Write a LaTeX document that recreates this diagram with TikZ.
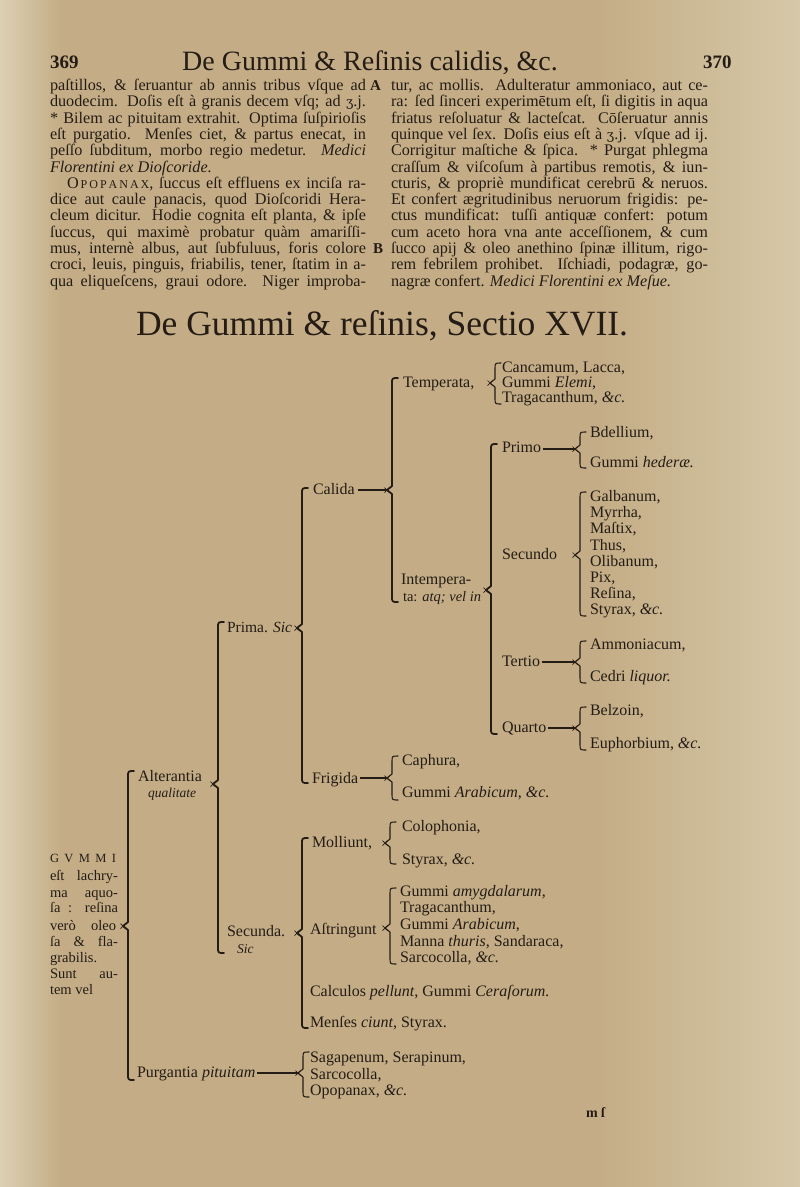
\documentclass[tikz,border=0pt]{standalone}
\usepackage{fontspec}
\setmainfont{Liberation Serif}
\newfontfamily\ezhfont{DejaVu Serif}
\definecolor{ink}{HTML}{241C15}
\definecolor{paper}{HTML}{C4AD86}
\definecolor{paperlight}{HTML}{DCD0B3}
\definecolor{paperright}{HTML}{D6C8A8}
\newcommand\drach{{\ezhfont\fontsize{13}{14}\selectfont ʒ}}
% name, style, x, top, mid, bottom
\newcommand\gbrace[6]{%
  \draw[#2] (#3+6,#4) .. controls (#3,#4) .. (#3,#4+6) -- (#3,#5-4) -- (#3-5,#5) -- (#3,#5+4) -- (#3,#6-6) .. controls (#3,#6) .. (#3+6,#6);
  \draw[crossmark] (#3-7.5,#5-2.5) -- (#3-2.5,#5+2.5) (#3-7.5,#5+2.5) -- (#3-2.5,#5-2.5);
  \coordinate (#1) at (#3-5,#5);}
% name, x, baseline, width, text
\newcommand\jl[5]{\node[body,anchor=base west] (#1) at (#2,#3) {\makebox[#4pt][s]{#5}};}
\tikzset{
  txt/.style={inner sep=0pt, outer sep=0pt, text=ink},
  body/.style={txt, font=\fontsize{16.2}{17}\selectfont},
  dg/.style={txt, anchor=base west, font=\fontsize{16}{17}\selectfont},
  dgs/.style={txt, anchor=base west, font=\fontsize{13.5}{14}\selectfont},
  bigbrace/.style={draw=ink, line width=1.8pt, line cap=round, line join=round},
  smallbrace/.style={draw=ink, line width=1.1pt, line cap=round, line join=round},
  crossmark/.style={draw=ink, line width=0.7pt},
  dashline/.style={draw=ink, line width=1.2pt},
  heavyline/.style={draw=ink, line width=2.4pt},
}
\begin{document}
\begin{tikzpicture}[x=1pt,y=-1pt]
\useasboundingbox (0,0) rectangle (800,1187);
\fill[paper] (0,0) rectangle (800,1187);
\shade[left color=paperlight, right color=paper] (0,0) rectangle (60,1187);
\shade[left color=paper, right color=paperright] (600,0) rectangle (800,1187);

% running head
\node[txt, anchor=base west, font=\fontsize{19}{20}\selectfont\bfseries] (p369) at (50,68) {369};
\node[txt, anchor=base, font=\fontsize{28}{30}\selectfont] (head) at (370,70) {De Gummi \& Reſinis calidis, \&c.};
\node[txt, anchor=base west, font=\fontsize{19}{20}\selectfont\bfseries] (p370) at (703,68) {370};

% left column
\jl{l1}{50}{90.5}{316}{paſtillos, \& ſeruantur ab annis tribus vſque ad}
\node[body, anchor=base west, font=\fontsize{15}{16}\selectfont\bfseries] (mA) at (370,90.5) {A};
\jl{l2}{50}{106.8}{316}{duodecim. Doſis eſt à granis decem vſq; ad \drach.j.}
\jl{l3}{50}{123.1}{316}{* Bilem ac pituitam extrahit. Optima ſuſpirioſis}
\jl{l4}{50}{139.4}{316}{eſt purgatio. Menſes ciet, \& partus enecat, in}
\jl{l5}{50}{155.7}{316}{peſſo ſubditum, morbo regio medetur. \textit{Medici}}
\node[body, anchor=base west] (l6) at (50,172) {\textit{Florentini ex Dioſcoride.}};
\jl{l7}{67}{188.3}{299}{O{\fontsize{12}{12}\selectfont\,P\,O\,P\,A\,N\,A\,X}, ſuccus eſt effluens ex inciſa ra-}
\jl{l8}{50}{204.6}{316}{dice aut caule panacis, quod Dioſcoridi Hera-}
\jl{l9}{50}{220.9}{316}{cleum dicitur. Hodie cognita eſt planta, \& ipſe}
\jl{l10}{50}{237.2}{316}{ſuccus, qui maximè probatur quàm amariſſi-}
\jl{l11}{50}{253.5}{316}{mus, internè albus, aut ſubfuluus, foris colore}
\node[body, anchor=base west, font=\fontsize{15}{16}\selectfont\bfseries] (mB) at (373,253.5) {B};
\jl{l12}{50}{269.8}{316}{croci, leuis, pinguis, friabilis, tener, ſtatim in a-}
\jl{l13}{50}{286.1}{316}{qua eliqueſcens, graui odore. Niger improba-}

% right column
\jl{r1}{391}{90.5}{317}{tur, ac mollis. Adulteratur ammoniaco, aut ce-}
\jl{r2}{391}{106.8}{317}{ra: ſed ſinceri experimētum eſt, ſi digitis in aqua}
\jl{r3}{391}{123.1}{317}{friatus reſoluatur \& lacteſcat. Cōſeruatur annis}
\jl{r4}{391}{139.4}{317}{quinque vel ſex. Doſis eius eſt à \drach.j. vſque ad ij.}
\jl{r5}{391}{155.7}{317}{Corrigitur maſtiche \& ſpica. * Purgat phlegma}
\jl{r6}{391}{172}{317}{craſſum \& viſcoſum à partibus remotis, \& iun-}
\jl{r7}{391}{188.3}{317}{cturis, \& propriè mundificat cerebrū \& neruos.}
\jl{r8}{391}{204.6}{317}{Et confert ægritudinibus neruorum frigidis: pe-}
\jl{r9}{391}{220.9}{317}{ctus mundificat: tuſſi antiquæ confert: potum}
\jl{r10}{391}{237.2}{317}{cum aceto hora vna ante acceſſionem, \& cum}
\jl{r11}{391}{253.5}{317}{ſucco apij \& oleo anethino ſpinæ illitum, rigo-}
\jl{r12}{391}{269.8}{317}{rem febrilem prohibet. Iſchiadi, podagræ, go-}
\node[body, anchor=base west] (r13) at (391,286.1) {nagræ confert. \textit{Medici Florentini ex Meſue.}};

% section title
\node[txt, anchor=base, font=\fontsize{35.5}{37}\selectfont] (title) at (382,335) {De Gummi \& reſinis, Sectio XVII.};

% ---------- root text ----------
\node[txt, anchor=base west, font=\fontsize{12.5}{13}\selectfont] (g1) at (50,862.5) {\makebox[66pt][s]{G V M M I}};
\node[txt, anchor=base west, font=\fontsize{14.5}{15}\selectfont] (g2) at (50,880.5) {\makebox[68pt][s]{eſt lachry-}};
\node[txt, anchor=base west, font=\fontsize{14.5}{15}\selectfont] (g3) at (50,897.5) {\makebox[68pt][s]{ma aquo-}};
\node[txt, anchor=base west, font=\fontsize{14.5}{15}\selectfont] (g4) at (50,912.5) {\makebox[68pt][s]{ſa : reſina}};
\node[txt, anchor=base west, font=\fontsize{14.5}{15}\selectfont] (g5) at (50,930.5) {\makebox[66pt][s]{verò oleo}};
\node[txt, anchor=base west, font=\fontsize{14.5}{15}\selectfont] (g6) at (50,946.5) {\makebox[68pt][s]{ſa \& fla-}};
\node[txt, anchor=base west, font=\fontsize{14.5}{15}\selectfont] (g7) at (50,962.5) {grabilis.};
\node[txt, anchor=base west, font=\fontsize{14.5}{15}\selectfont] (g8) at (50,978.5) {\makebox[68pt][s]{Sunt au-}};
\node[txt, anchor=base west, font=\fontsize{14.5}{15}\selectfont] (g9) at (50,994.5) {tem vel};

% ---------- braces ----------
\gbrace{Broot}{bigbrace}{128}{771}{926}{1080}
\gbrace{Balt}{bigbrace}{218}{622}{784}{953}
\gbrace{Bprima}{bigbrace}{302}{488}{628}{783}
\gbrace{Bcalida}{bigbrace}{392}{378}{490}{602}
\gbrace{Btemp}{smallbrace}{495}{363}{383}{404}
\gbrace{Bintemp}{bigbrace}{491}{444}{590}{734}
\gbrace{Bprimo}{smallbrace}{580}{432}{449}{468}
\gbrace{Bsecundo}{smallbrace}{580}{492}{555}{616}
\gbrace{Btertio}{smallbrace}{580}{641}{662}{683}
\gbrace{Bquarto}{smallbrace}{580}{707}{728}{750}
\gbrace{Bfrig}{smallbrace}{392}{756}{778}{800}
\gbrace{Bsecunda}{bigbrace}{302}{838}{933}{1028}
\gbrace{Bmoll}{smallbrace}{390}{822}{843}{864}
\gbrace{Bastr}{smallbrace}{390}{888}{928}{964}
\gbrace{Bpurg}{smallbrace}{303}{1052}{1073}{1097}

% ---------- level 1 ----------
\node[dg] (alt) at (138,781.5) {Alterantia};
\node[dgs] (altq) at (148,797.5) {\textit{qualitate}};
\node[dg] (purg) at (137,1077) {Purgantia \textit{pituitam}};

% ---------- level 2 ----------
\node[dg, font=\fontsize{15.5}{16}\selectfont] (prima) at (227,632.5) {Prima. \textit{Sic}};
\node[dg] (secunda) at (227,936.5) {Secunda.};
\node[dgs] (secsic) at (237,953.5) {\textit{Sic}};

% ---------- Prima ----------
\node[dg] (calida) at (313,494) {Calida};
\node[dg] (frig) at (312,783) {Frigida};

\node[dg] (temp) at (403,387.5) {Temperata,};
\node[dg] (cancamum) at (502,372.5) {Cancamum, Lacca,};
\node[dg] (elemi) at (502,387.5) {Gummi \textit{Elemi},};
\node[dg] (traga) at (502,402.5) {Tragacanthum, \textit{\&c.}};

\node[dg] (int1) at (401,584.5) {Intempera-};
\node[dg, font=\fontsize{14.5}{15}\selectfont] (int2) at (403,601.5) {ta: \textit{atq; vel in}};

\node[dg] (primo) at (502,452.5) {Primo};
\node[dg] (bdell) at (590,437.5) {Bdellium,};
\node[dg] (heder) at (590,467.5) {Gummi \textit{hederæ.}};

\node[dg] (secundo) at (502,559.5) {Secundo};
\node[dg] (s1) at (590,501.5) {Galbanum,};
\node[dg] (s2) at (590,517.5) {Myrrha,};
\node[dg] (s3) at (590,533.5) {Maſtix,};
\node[dg] (s4) at (590,550) {Thus,};
\node[dg] (s5) at (590,566.5) {Olibanum,};
\node[dg] (s6) at (590,582.5) {Pix,};
\node[dg] (s7) at (590,598.5) {Reſina,};
\node[dg] (s8) at (590,614.5) {Styrax, \textit{\&c.}};

\node[dg] (tertio) at (502,666.5) {Tertio};
\node[dg] (ammon) at (590,649.5) {Ammoniacum,};
\node[dg] (cedri) at (590,681.5) {Cedri \textit{liquor.}};

\node[dg] (quarto) at (502,732.5) {Quarto};
\node[dg] (belz) at (590,715.5) {Belzoin,};
\node[dg] (euph) at (590,748) {Euphorbium, \textit{\&c.}};

\node[dg] (caph) at (402,765.5) {Caphura,};
\node[dg] (garab) at (402,797.5) {Gummi \textit{Arabicum}, \textit{\&c.}};

% ---------- Secunda ----------
\node[dg] (moll) at (312,847.5) {Molliunt,};
\node[dg] (colo) at (402,831.5) {Colophonia,};
\node[dg] (styr2) at (402,864.5) {Styrax, \textit{\&c.}};

\node[dg] (astr) at (310,934.5) {Aſtringunt};
\node[dg] (amyg) at (400,896.5) {Gummi \textit{amygdalarum},};
\node[dg] (trag2) at (400,912.5) {Tragacanthum,};
\node[dg] (garab2) at (400,929.5) {Gummi \textit{Arabicum},};
\node[dg] (manna) at (400,946.5) {Manna \textit{thuris}, Sandaraca,};
\node[dg] (sarc) at (400,962.5) {Sarcocolla, \textit{\&c.}};

\node[dg] (calc) at (310,996.5) {Calculos \textit{pellunt}, Gummi \textit{Ceraſorum.}};
\node[dg] (menses) at (310,1027.5) {Menſes \textit{ciunt}, Styrax.};

% ---------- Purgantia ----------
\node[dg] (sag) at (310,1062) {Sagapenum, Serapinum,};
\node[dg] (sarc2) at (310,1079) {Sarcocolla,};
\node[dg] (opop) at (310,1095) {Opopanax, \textit{\&c.}};

% ---------- connectors ----------
\draw[dashline] ([xshift=3pt]calida.east |- Bcalida) -- (Bcalida);
\draw[dashline] ([xshift=2pt]frig.east |- Bfrig) -- (Bfrig);
\draw[dashline] ([xshift=2pt]primo.east |- Bprimo) -- (Bprimo);
\draw[dashline] ([xshift=2pt]tertio.east |- Btertio) -- (Btertio);
\draw[dashline] ([xshift=2pt]quarto.east |- Bquarto) -- (Bquarto);
\draw[heavyline] ([xshift=2pt]purg.east |- Bpurg) -- (Bpurg);

% signature mark
\node[txt, anchor=base west, font=\fontsize{14}{15}\selectfont\bfseries] (sig) at (586,1117) {m ſ};
\end{tikzpicture}
\end{document}
